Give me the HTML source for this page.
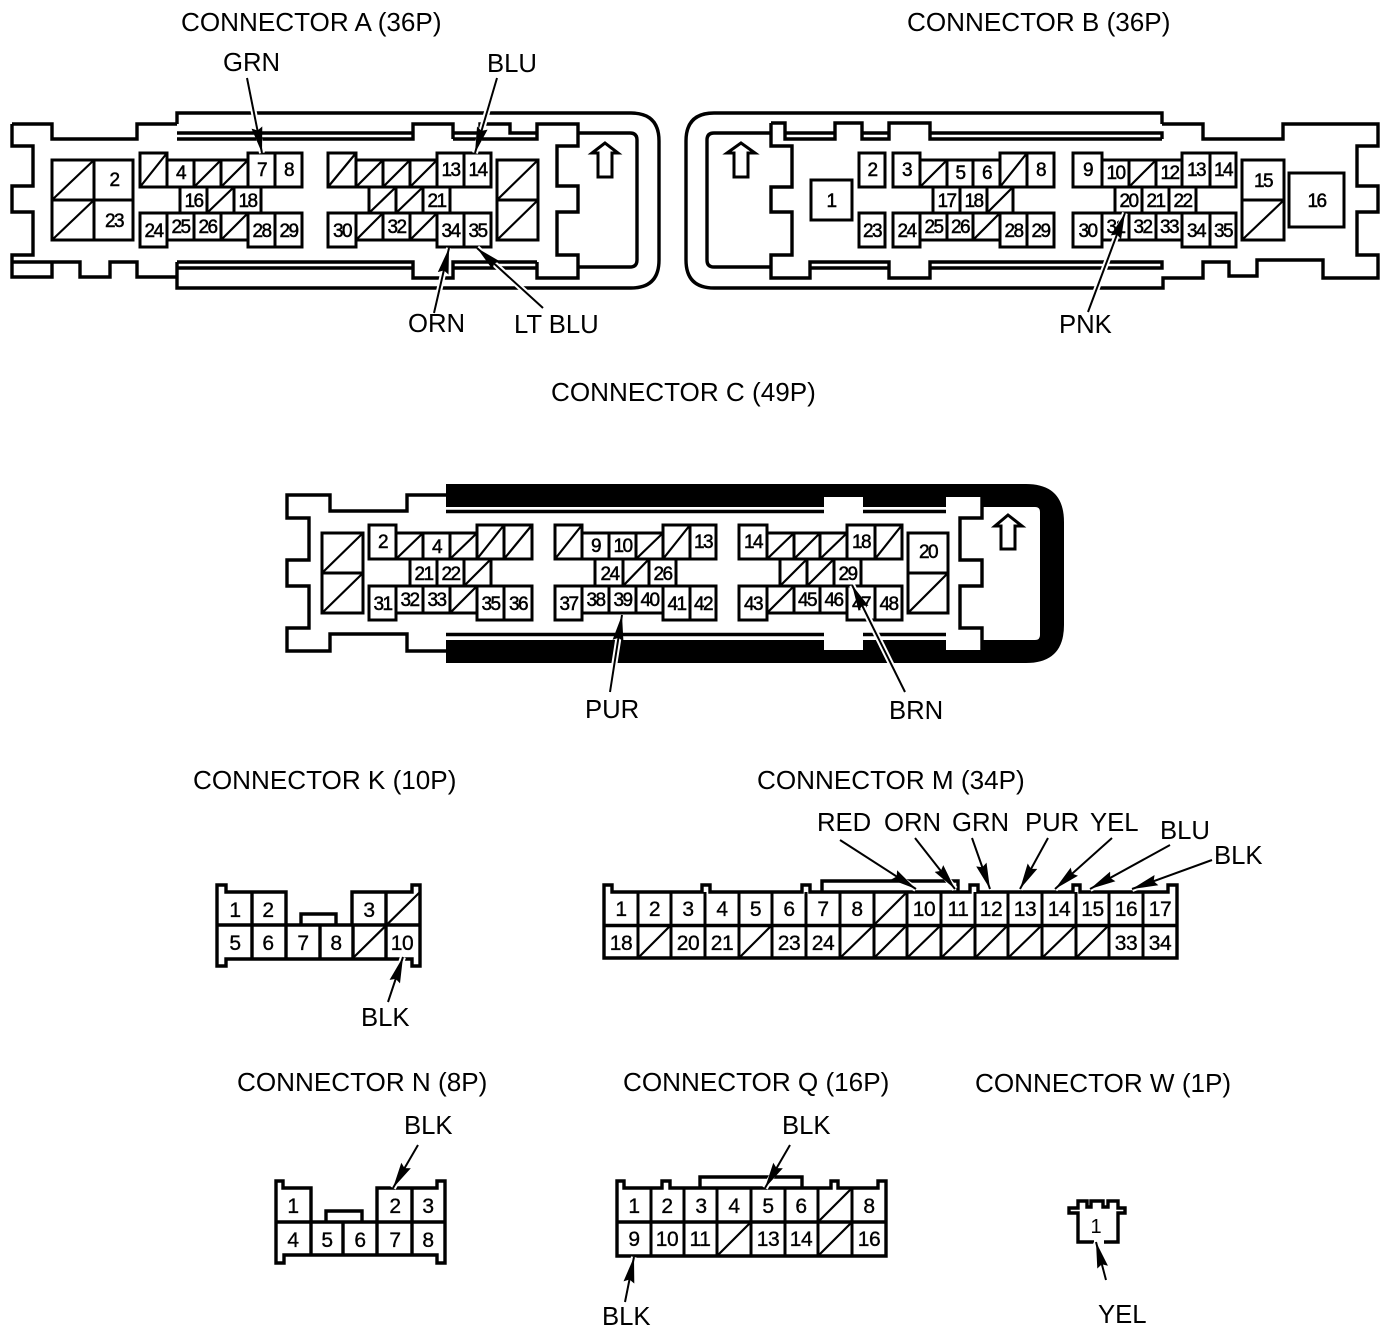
<!DOCTYPE html>
<html><head><meta charset="utf-8"><title>Connectors</title>
<style>
html,body{margin:0;padding:0;background:#fff}
svg{display:block}
.o{fill:none;stroke:#000;stroke-width:3.4;stroke-linejoin:miter}
.c{fill:none;stroke:#000;stroke-width:3}
.s{fill:none;stroke:#000;stroke-width:2.2}
text{font-family:"Liberation Sans",sans-serif;fill:#000}
.l{font-size:25.7px}
.t{font-size:26.1px}
.p text{font-size:19px;letter-spacing:-1.6px;text-anchor:middle;stroke:#000;stroke-width:.5}
.q text{font-size:21px;letter-spacing:-.4px;text-anchor:middle;stroke:#000;stroke-width:.35}
.h line{stroke:#fff;stroke-width:6}
.a line{stroke:#000;stroke-width:2;marker-end:url(#m)}
</style></head><body>
<svg width="1392" height="1332" viewBox="0 0 1392 1332" xmlns="http://www.w3.org/2000/svg">
<defs><marker id="m" markerUnits="userSpaceOnUse" markerWidth="26" markerHeight="12" refX="26" refY="6" orient="auto"><polygon points="0,0.5 26,6 0,11.5 3,6" fill="#000"/></marker></defs>

<!-- Connector A -->
<path class="o" d="M177 124V113H631Q659 113 659 141V260Q659 288 631 288H177V278M12 124H52V139H137V124H177M12 124V146H33V186H12V212H33V255H12V277H52V262H80V277H110V262H137V277H177V262M12 262H52"/>
<path class="o" d="M177 133H413M177 139H413V124H453V139M453 133H480V124H510V133H537M453 139H537V124H578V133H630Q637 133 637 140V260Q637 267 630 267H578V278H537V262M578 133V146H557V186H578V212H557V255H578V267M177 262H413V278H453V262H537M177 268H413M453 268H537"/>
<path class="c" d="M140 153H167V187H140ZM167 160H194V187H167ZM194 160H221V187H194ZM221 160H248V187H221ZM248 153H275V187H248ZM275 153H302V187H275ZM180 187H207V213H180ZM207 187H234V213H207ZM234 187H261V213H234ZM140 213H167V247H140ZM167 213H194V240H167ZM194 213H221V240H194ZM221 213H248V240H221ZM248 213H275V247H248ZM275 213H302V247H275ZM52 160H133V240H52ZM94 160V240M52 200H133M328 153H356V187H328ZM356 160H383V187H356ZM383 160H410V187H383ZM410 160H437V187H410ZM437 153H464V187H437ZM464 153H491V187H464ZM369 187H396V213H369ZM396 187H423V213H396ZM423 187H450V213H423ZM328 213H356V247H328ZM356 213H383V240H356ZM383 213H410V240H383ZM410 213H437V240H410ZM437 213H464V247H437ZM464 213H491V247H464ZM497 160H538V240H497ZM497 200H538"/>
<path class="s" d="M140 187L167 153M194 187L221 160M221 187L248 160M207 213L234 187M221 240L248 213M52 200L94 160M52 240L94 200M328 187L356 153M356 187L383 160M383 187L410 160M410 187L437 160M369 213L396 187M396 213L423 187M356 240L383 213M410 240L437 213M497 200L538 160M497 240L538 200"/>
<path class="c" d="M605 143L592 153H598V177H612V153H618Z"/>
<g class="p"><text x="180.5" y="179">4</text><text x="261.5" y="176">7</text><text x="288.5" y="176">8</text><text x="193.5" y="207">16</text><text x="247.5" y="207">18</text><text x="153.5" y="237">24</text><text x="180.5" y="233">25</text><text x="207.5" y="233">26</text><text x="261.5" y="237">28</text><text x="288.5" y="237">29</text><text x="114" y="186">2</text><text x="114" y="227">23</text><text x="450.5" y="176">13</text><text x="477.5" y="176">14</text><text x="436.5" y="207">21</text><text x="342" y="237">30</text><text x="396.5" y="233">32</text><text x="450.5" y="237">34</text><text x="477.5" y="237">35</text></g>

<!-- Connector B -->
<path class="o" d="M1162 124V113H714Q686 113 686 141V260Q686 288 714 288H1163V278H1203V262H1229V276H1257V260H1323V278H1378V255H1357V212H1378V186H1357V146H1378V124H1283V139H1203V124H1162"/>
<path class="o" d="M771 133H714Q707 133 707 140V260Q707 267 714 267H771M771 123H785V139H835V123H862V139H889V123H930V139H1162M785 133H835M862 133H889M930 133H1162V139M771 123V146H792V187H771V212H792V255H771V278H810V262H889V278H930V262H1162V268H930M810 268H889"/>
<path class="c" d="M811 180H852V220H811ZM859 153H885V187H859ZM859 213H885V247H859ZM893 153H920V187H893ZM893 213H920V247H893ZM920 160H947V187H920ZM947 160H973V187H947ZM973 160H1000V187H973ZM1000 153H1027V187H1000ZM1027 153H1054V187H1027ZM933 187H960V213H933ZM960 187H987V213H960ZM987 187H1013V213H987ZM920 213H947V240H920ZM947 213H973V240H947ZM973 213H1000V240H973ZM1000 213H1027V247H1000ZM1027 213H1054V247H1027ZM1073 153H1102V187H1073ZM1102 160H1129V187H1102ZM1129 160H1156V187H1129ZM1156 160H1182V187H1156ZM1182 153H1210V187H1182ZM1210 153H1236V187H1210ZM1115 187H1142V213H1115ZM1142 187H1169V213H1142ZM1169 187H1196V213H1169ZM1073 213H1102V247H1073ZM1102 213H1129V240H1102ZM1129 213H1156V240H1129ZM1156 213H1182V240H1156ZM1182 213H1210V247H1182ZM1210 213H1236V247H1210ZM1242 160H1284V240H1242ZM1242 200H1284ZM1289 173H1344V227H1289Z"/>
<path class="s" d="M920 187L947 160M1000 187L1027 153M987 213L1013 187M973 240L1000 213M1129 187L1156 160M1242 240L1284 200"/>
<path class="c" d="M741 143L727 153H734V177H748V153H755Z"/>
<g class="p"><text x="831" y="207">1</text><text x="872" y="176">2</text><text x="872" y="237">23</text><text x="906.5" y="176">3</text><text x="906.5" y="237">24</text><text x="960" y="179">5</text><text x="986.5" y="179">6</text><text x="1040.5" y="176">8</text><text x="946.5" y="207">17</text><text x="973.5" y="207">18</text><text x="933.5" y="233">25</text><text x="960" y="233">26</text><text x="1013.5" y="237">28</text><text x="1040.5" y="237">29</text><text x="1087.5" y="176">9</text><text x="1115.5" y="179">10</text><text x="1169.5" y="179">12</text><text x="1196" y="176">13</text><text x="1223" y="176">14</text><text x="1128.5" y="207">20</text><text x="1155.5" y="207">21</text><text x="1182.5" y="207">22</text><text x="1087.5" y="237">30</text><text x="1115.5" y="233">31</text><text x="1142.5" y="233">32</text><text x="1169" y="233">33</text><text x="1196" y="237">34</text><text x="1223" y="237">35</text><text x="1263" y="187">15</text><text x="1316.5" y="207">16</text></g>

<!-- Connector C -->
<path d="M446 484H1026Q1064 484 1064 522V625Q1064 663 1026 663H446Z" fill="#000"/>
<path d="M446 507H1035Q1040 507 1040 512V635Q1040 640 1035 640H446ZM824 497H863V513H824ZM946 497H982V513H946ZM824 634H863V650H824ZM946 634H982V650H946Z" fill="#fff"/>
<path class="o" d="M446 495H407V511H330V495H287V518H309V560H287V586H309V628H287V651H330V634H407V651H446M446 511.5H824M863 511.5H946M446 634.5H824M863 634.5H946M982 497V518H960V560H982V586H960V628H982V650"/>
<path class="c" d="M322 533H363V613H322ZM322 573H363ZM369 525H396V559H369ZM396 533H423V559H396ZM423 533H450V559H423ZM450 533H477V559H450ZM477 525H504V559H477ZM504 525H532V559H504ZM410 559H437V586H410ZM437 559H464V586H437ZM464 559H491V586H464ZM369 586H396V620H369ZM396 586H423V613H396ZM423 586H450V613H423ZM450 586H477V613H450ZM477 586H504V620H477ZM504 586H532V620H504ZM555 525H582V559H555ZM582 533H609V559H582ZM609 533H636V559H609ZM636 533H663V559H636ZM663 525H690V559H663ZM690 525H716V559H690ZM595 559H623V586H595ZM623 559H649V586H623ZM649 559H676V586H649ZM555 586H582V620H555ZM582 586H609V613H582ZM609 586H636V613H609ZM636 586H663V613H636ZM663 586H690V620H663ZM690 586H716V620H690ZM739 525H767V559H739ZM767 533H794V559H767ZM794 533H820V559H794ZM820 533H847V559H820ZM847 525H875V559H847ZM875 525H902V559H875ZM780 559H807V586H780ZM807 559H834V586H807ZM834 559H861V586H834ZM739 586H767V620H739ZM767 586H794V613H767ZM794 586H820V613H794ZM820 586H847V613H820ZM847 586H875V620H847ZM875 586H902V620H875ZM908 533H948V613H908ZM908 573H948Z"/>
<path class="s" d="M322 573L363 533M322 613L363 573M396 559L423 533M450 559L477 533M477 559L504 525M504 559L532 525M464 586L491 559M450 613L477 586M555 559L582 525M636 559L663 533M663 559L690 525M623 586L649 559M767 559L794 533M794 559L820 533M820 559L847 533M875 559L902 525M780 586L807 559M807 586L834 559M767 613L794 586M908 613L948 573"/>
<path class="c" d="M1008 515L995 526H1001V549H1015V526H1022Z" fill="#fff"/>
<g class="p"><text x="382.5" y="548">2</text><text x="436.5" y="553">4</text><text x="423.5" y="580">21</text><text x="450.5" y="580">22</text><text x="382.5" y="610">31</text><text x="409.5" y="606">32</text><text x="436.5" y="606">33</text><text x="490.5" y="610">35</text><text x="518" y="610">36</text><text x="595.5" y="552">9</text><text x="622.5" y="552">10</text><text x="703" y="548">13</text><text x="609.5" y="580">24</text><text x="662.5" y="580">26</text><text x="568.5" y="610">37</text><text x="595.5" y="606">38</text><text x="622.5" y="606">39</text><text x="649.5" y="606">40</text><text x="676.5" y="610">41</text><text x="703" y="610">42</text><text x="753" y="548">14</text><text x="861" y="548">18</text><text x="847.5" y="580">29</text><text x="753" y="610">43</text><text x="807" y="606">45</text><text x="833.5" y="606">46</text><text x="861" y="610">47</text><text x="888.5" y="610">48</text><text x="928" y="558">20</text></g>

<!-- Connector K -->
<path class="o" d="M217 966V885H226V892H286V925H301V914H336V925H352V892H412V885H420V966H412V959H226V966ZM217 925H420M252 892V959M286 925V959M320 925V959M353 925V959M386 892V959"/>
<path class="s" d="M353 958L420 892"/>
<g class="q"><text x="235" y="917">1</text><text x="268" y="917">2</text><text x="369" y="917">3</text><text x="235" y="950">5</text><text x="268" y="950">6</text><text x="303" y="950">7</text><text x="336" y="950">8</text><text x="402" y="950">10</text></g>

<!-- Connector M -->
<path class="o" d="M604 958V885H612V892H702V885H710V892H802V885H810V892H970V885H978V892H1073V885H1080V892H1168V885H1177V958ZM822 892V881H958V892M604 925.5H1177"/>
<path class="c" d="M638 892V958M671 892V958M705 892V958M739 892V958M772 892V958M806 892V958M840 892V958M874 892V958M907 892V958M941 892V958M975 892V958M1008 892V958M1042 892V958M1076 892V958M1109 892V958M1143 892V958"/>
<path class="s" d="M874 925L907 892M638 958L671 925M739 958L772 925M840 958L874 925M874 958L907 925M907 958L941 925M941 958L975 925M975 958L1008 925M1008 958L1042 925M1042 958L1076 925M1076 958L1109 925"/>
<g class="q"><text x="621" y="916">1</text><text x="654.5" y="916">2</text><text x="688" y="916">3</text><text x="722" y="916">4</text><text x="755.5" y="916">5</text><text x="789" y="916">6</text><text x="823" y="916">7</text><text x="857" y="916">8</text><text x="924" y="916">10</text><text x="958" y="916">11</text><text x="991" y="916">12</text><text x="1025" y="916">13</text><text x="1059" y="916">14</text><text x="1092.5" y="916">15</text><text x="1126" y="916">16</text><text x="1160" y="916">17</text><text x="621" y="950">18</text><text x="688" y="950">20</text><text x="722" y="950">21</text><text x="789" y="950">23</text><text x="823" y="950">24</text><text x="1126" y="950">33</text><text x="1160" y="950">34</text></g>

<!-- Connector N -->
<path class="o" d="M276 1263V1181H283V1188H311V1222H326V1211H362V1222H377V1188H437V1181H445V1263H437V1255H284V1263ZM276 1222H445M311 1222V1255M343 1222V1255M377 1222V1255M412 1188V1255"/>
<g class="q"><text x="293" y="1213">1</text><text x="395" y="1213">2</text><text x="428" y="1213">3</text><text x="293" y="1247">4</text><text x="327" y="1247">5</text><text x="360" y="1247">6</text><text x="395" y="1247">7</text><text x="428" y="1247">8</text></g>

<!-- Connector Q -->
<path class="o" d="M617 1256V1181H624V1188H662V1181H670V1188H831V1181H838V1188H878V1181H886V1256ZM700 1188V1177H802V1188M617 1222H886"/>
<path class="c" d="M651 1188V1256M684 1188V1256M717 1188V1256M751 1188V1256M785 1188V1256M818 1188V1256M852 1188V1256"/>
<path class="s" d="M818 1222L852 1188M717 1256L751 1222M818 1256L852 1222"/>
<g class="q"><text x="634" y="1213">1</text><text x="667" y="1213">2</text><text x="701" y="1213">3</text><text x="734" y="1213">4</text><text x="768" y="1213">5</text><text x="801" y="1213">6</text><text x="869" y="1213">8</text><text x="634" y="1246">9</text><text x="667" y="1246">10</text><text x="700" y="1246">11</text><text x="768" y="1246">13</text><text x="801" y="1246">14</text><text x="869" y="1246">16</text></g>

<!-- Connector W -->
<path class="o" d="M1094 1242H1078V1213H1069V1208H1078V1201H1087V1207H1091V1201H1103V1207H1108V1201H1118V1208H1125V1213H1118V1242H1104"/>
<text x="1096" y="1233" text-anchor="middle" font-size="20">1</text>

<!-- Leaders -->
<g class="h"><line x1="247" y1="78" x2="262" y2="153"/><line x1="497" y1="78" x2="475" y2="153"/><line x1="434" y1="313" x2="449" y2="248"/><line x1="543" y1="308" x2="477" y2="248"/><line x1="1088" y1="312" x2="1125" y2="213"/><line x1="610" y1="692" x2="622" y2="615"/><line x1="905" y1="692" x2="852" y2="585"/><line x1="388" y1="1002" x2="403" y2="957"/><line x1="840" y1="840" x2="916" y2="889"/><line x1="915" y1="838" x2="955" y2="889"/><line x1="972" y1="838" x2="990" y2="889"/><line x1="1048" y1="838" x2="1020" y2="889"/><line x1="1112" y1="838" x2="1055" y2="889"/><line x1="1170" y1="845" x2="1090" y2="889"/><line x1="1212" y1="860" x2="1132" y2="889"/><line x1="418" y1="1145" x2="393" y2="1188"/><line x1="790" y1="1145" x2="765" y2="1188"/><line x1="625" y1="1302" x2="634" y2="1257"/><line x1="1106" y1="1280" x2="1096" y2="1242"/></g>
<g class="a"><line x1="247" y1="78" x2="262" y2="153"/><line x1="497" y1="78" x2="475" y2="153"/><line x1="434" y1="313" x2="449" y2="248"/><line x1="543" y1="308" x2="477" y2="248"/><line x1="1088" y1="312" x2="1125" y2="213"/><line x1="610" y1="692" x2="622" y2="615"/><line x1="905" y1="692" x2="852" y2="585"/><line x1="388" y1="1002" x2="403" y2="957"/><line x1="840" y1="840" x2="916" y2="889"/><line x1="915" y1="838" x2="955" y2="889"/><line x1="972" y1="838" x2="990" y2="889"/><line x1="1048" y1="838" x2="1020" y2="889"/><line x1="1112" y1="838" x2="1055" y2="889"/><line x1="1170" y1="845" x2="1090" y2="889"/><line x1="1212" y1="860" x2="1132" y2="889"/><line x1="418" y1="1145" x2="393" y2="1188"/><line x1="790" y1="1145" x2="765" y2="1188"/><line x1="625" y1="1302" x2="634" y2="1257"/><line x1="1106" y1="1280" x2="1096" y2="1242"/></g>

<!-- Labels -->
<g><text class="t" x="181" y="31">CONNECTOR A (36P)</text><text class="t" x="907" y="31">CONNECTOR B (36P)</text><text class="t" x="551" y="401">CONNECTOR C (49P)</text><text class="t" x="193" y="789">CONNECTOR K (10P)</text><text class="t" x="757" y="789">CONNECTOR M (34P)</text><text class="t" x="237" y="1091">CONNECTOR N (8P)</text><text class="t" x="623" y="1091">CONNECTOR Q (16P)</text><text class="t" x="975" y="1092">CONNECTOR W (1P)</text><text class="l" x="223" y="71">GRN</text><text class="l" x="487" y="72">BLU</text><text class="l" x="408" y="332">ORN</text><text class="l" x="514" y="333">LT BLU</text><text class="l" x="1059" y="333">PNK</text><text class="l" x="585" y="718">PUR</text><text class="l" x="889" y="719">BRN</text><text class="l" x="361" y="1026">BLK</text><text class="l" x="817" y="831">RED</text><text class="l" x="884" y="831">ORN</text><text class="l" x="952" y="831">GRN</text><text class="l" x="1025" y="831">PUR</text><text class="l" x="1090" y="831">YEL</text><text class="l" x="1160" y="839">BLU</text><text class="l" x="1214" y="864">BLK</text><text class="l" x="404" y="1134">BLK</text><text class="l" x="782" y="1134">BLK</text><text class="l" x="602" y="1325">BLK</text><text class="l" x="1098" y="1323">YEL</text></g>
</svg>
</body></html>
